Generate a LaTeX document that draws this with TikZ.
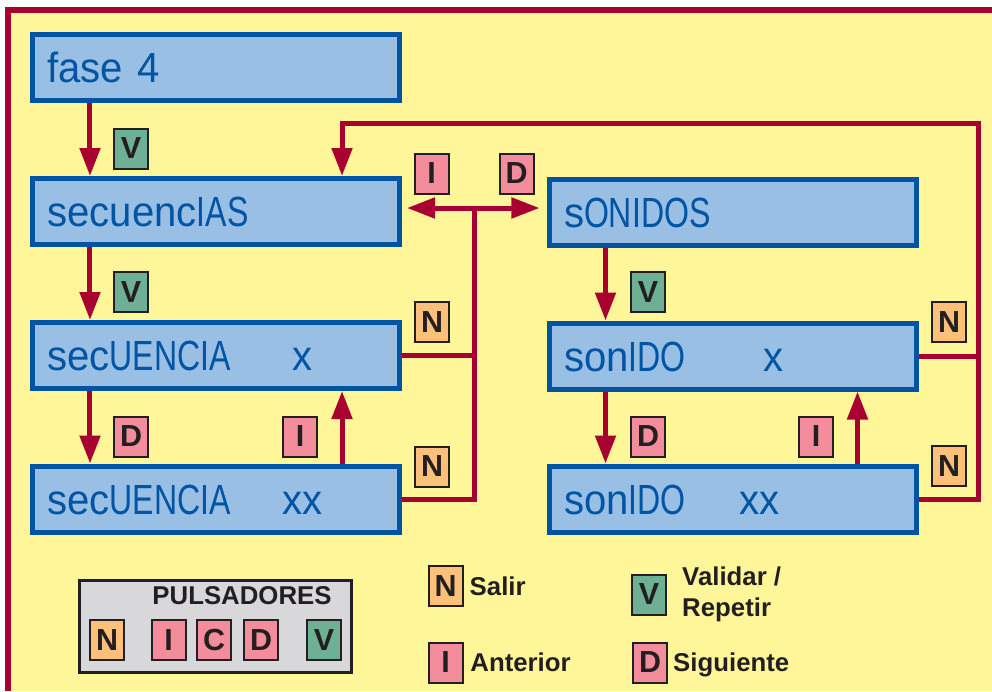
\documentclass[tikz,border=0pt]{standalone}
\usepackage{fontspec}
\setmainfont{Liberation Sans}
\newfontfamily\lowfont[FakeStretch=0.95]{Liberation Sans}
\newfontfamily\capfont[FakeStretch=0.76]{Liberation Sans}
\usetikzlibrary{arrows.meta,positioning}
\definecolor{paper}{RGB}{255,246,153}
\definecolor{linkred}{RGB}{168,0,48}
\definecolor{boxfill}{RGB}{153,191,229}
\definecolor{boxblue}{RGB}{0,84,164}
\definecolor{keyorange}{RGB}{253,192,122}
\definecolor{keypink}{RGB}{243,140,155}
\definecolor{keygreen}{RGB}{110,176,148}
\definecolor{keyline}{RGB}{35,31,32}
\definecolor{panelgray}{RGB}{216,216,218}
\newcommand{\bigcaps}[1]{{\capfont #1}}

\begin{document}
\begin{tikzpicture}[x=0.03cm, y=-0.03cm, >={Triangle[width=0.6cm,length=0.84cm]},
    screen/.style={draw=boxblue, fill=boxfill, line width=0.15cm, text width=10.11cm, align=left,
        inner xsep=0.45cm, inner ysep=0pt, minimum height=1.98cm, text height=0.9cm, text depth=0pt,
        text=boxblue, font=\lowfont\fontsize{36}{40}\selectfont},
    key/.style={draw=keyline, line width=0.06cm, minimum width=1.02cm, minimum height=1.2cm, inner sep=0pt,
        text=keyline, font=\bfseries\fontsize{26}{26}\selectfont},
    wire/.style={draw=linkred, line width=0.15cm},
    flow/.style={wire, ->},
    legtext/.style={inner sep=0pt, text=keyline, font=\bfseries\fontsize{22}{27}\selectfont,
        text height=15.8pt, text depth=0pt}]
        \def \colleft {216}
        \def \colright {732.5}

        % page, yellow sheet and its red frame
        \useasboundingbox (0,0) rectangle (992,691);
        \fill[white] (0,0) rectangle (992,691);
        \fill[paper] (8,9.5) rectangle (992,691);
        \draw[linkred, line width=0.18cm] (8,691) -- (8,9.5) -- (992,9.5);

        % the screens of the menu
        \node[screen] (fase) at (\colleft,67) {fase 4};
        \node[screen] (secuencias) at (\colleft,211.5) {secuenc\bigcaps{IAS}};
        \node[screen] (secuenciax) at (\colleft,355.5) {\makebox[7.35cm][l]{sec\bigcaps{UENCIA}}x};
        \node[screen] (secuenciaxx) at (\colleft,499) {\makebox[7.05cm][l]{sec\bigcaps{UENCIA}}xx};
        \node[screen] (sonidos) at (\colright,212) {s\bigcaps{ONIDOS}};
        \node[screen] (sonidox) at (\colright,356) {\makebox[5.97cm][l]{son\bigcaps{IDO}}x};
        \node[screen] (sonidoxx) at (\colright,499) {\makebox[5.25cm][l]{son\bigcaps{IDO}}xx};

        % corners of the return lines
        \coordinate (rtop) at (978,123);
        \coordinate (ljoin) at (474,208);

        % left column
        \draw[flow] ([xshift=1.8cm]fase.south west) -- ([xshift=1.8cm]secuencias.north west);
        \draw[flow] ([xshift=1.8cm]secuencias.south west) -- ([xshift=1.8cm]secuenciax.north west);
        \draw[flow] ([xshift=1.8cm]secuenciax.south west) -- ([xshift=1.8cm]secuenciaxx.north west);
        \draw[flow] ([xshift=9.36cm]secuenciaxx.north west) -- ([xshift=9.36cm]secuenciax.south west);

        % right column
        \draw[flow] ([xshift=1.77cm]sonidos.south west) -- ([xshift=1.77cm]sonidox.north west);
        \draw[flow] ([xshift=1.77cm]sonidox.south west) -- ([xshift=1.77cm]sonidoxx.north west);
        \draw[flow] ([xshift=9.33cm]sonidoxx.north west) -- ([xshift=9.33cm]sonidox.south west);

        % going out with N
        \draw[flow] (sonidoxx.east) -| (rtop) -| ([xshift=9.36cm]secuencias.north west);
        \draw[wire] (sonidox.east) -- (sonidox.east -| rtop);
        \draw[wire] (secuenciaxx.east) -| (ljoin);
        \draw[wire] (secuenciax.east) -- (secuenciax.east -| ljoin);

        % between the two menus
        \draw[wire, <->, shorten <=0.15cm, shorten >=0.21cm] (secuencias.east |- ljoin) -- (sonidos.west |- ljoin);

        % keys beside the arrows
        \foreach \name/\letter/\shade/\x/\y in {kfase/V/keygreen/131/148.5, ksec/V/keygreen/131/292,
            kdownl/D/keypink/131/436.5, kupl/I/keypink/300/436.5, koutl/N/keyorange/432/322,
            koutll/N/keyorange/432/466.5, kprev/I/keypink/431.5/173.5, knext/D/keypink/516.5/173.5,
            kson/V/keygreen/648/292, kdownr/D/keypink/648/436.5, kupr/I/keypink/816/436.5,
            koutr/N/keyorange/949/322, koutrr/N/keyorange/949/466}
            \node[key, fill=\shade] (\name) at (\x,\y) {\letter};

        % panel with the push buttons
        \node[draw=keyline, line width=0.09cm, fill=panelgray, minimum width=8.16cm, minimum height=2.76cm] (panel) at (215.5,626.5) {};
        \node[text=keyline, font=\bfseries\fontsize{22}{26}\selectfont] (paneltitle) at (242,595.5) {PULSADORES};
        \foreach \letter/\shade/\x in {N/keyorange/107, I/keypink/168.5, C/keypink/214, D/keypink/261, V/keygreen/324}
            \node[key, fill=\shade] (p\letter) at (\x,640) {\letter};

        % legend
        \node[key, fill=keyorange] (legN) at (445.5,586) {N};
        \node[key, fill=keypink] (legI) at (445.5,662.5) {I};
        \node[key, fill=keygreen] (legV) at (649,594.5) {V};
        \node[key, fill=keypink] (legD) at (650,662.5) {D};
        \node[legtext, right=0.18cm of legN] (salir) {Salir};
        \node[legtext, right=0.2cm of legI] (anterior) {Anterior};
        \node[legtext, right=0.15cm of legD] (siguiente) {Siguiente};
        \node[inner sep=0pt, text=keyline, align=left, font=\bfseries\fontsize{22}{27}\selectfont, right=0.45cm of legV] (validar) {Validar /\\Repetir};
    \end{tikzpicture}
\end{document}
